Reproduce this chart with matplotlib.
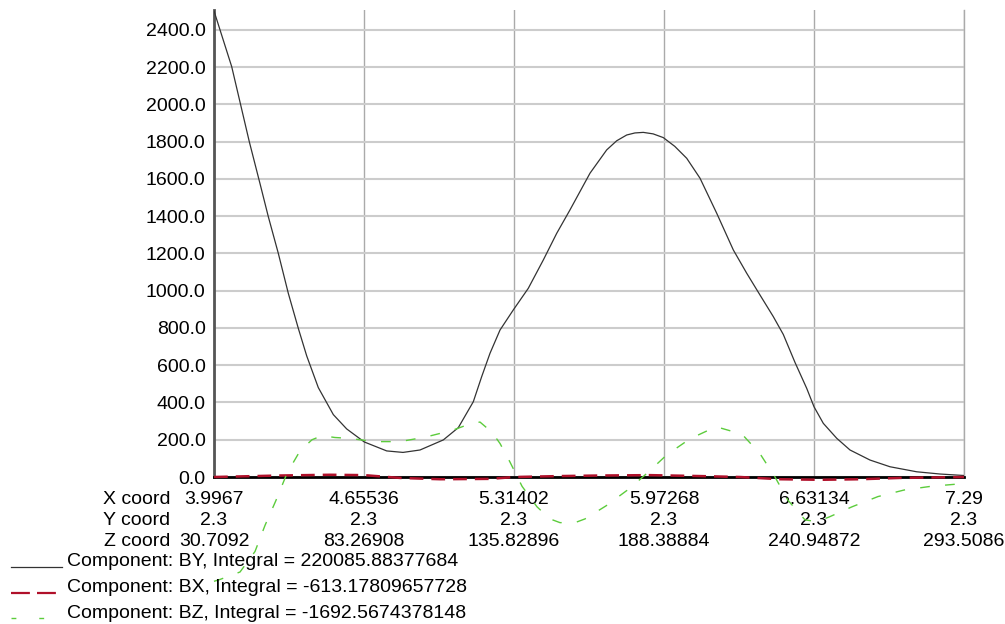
import matplotlib
matplotlib.use("Agg")
import matplotlib.pyplot as plt
from matplotlib.lines import Line2D
import numpy as np

plt.rcParams['font.family'] = ['Liberation Sans', 'DejaVu Sans']

# tick positions along the line (three coordinate rows)
x_coord = [3.9967, 4.65536, 5.31402, 5.97268, 6.63134, 7.29]
y_coord = ["2.3", "2.3", "2.3", "2.3", "2.3", "2.3"]
z_coord = ["30.7092", "83.26908", "135.82896", "188.38884", "240.94872", "293.5086"]

# Component BY
by_x = [3.9967, 4.0744, 4.1517, 4.1987, 4.2351, 4.2790, 4.3230, 4.3669, 4.4038, 4.4547,
        4.5206, 4.5794, 4.6567, 4.7550, 4.8266, 4.9013, 5.0036, 5.0695, 5.1353, 5.1722,
        5.2086, 5.2526, 5.3110, 5.3768, 5.4427, 5.5015, 5.5599, 5.6478, 5.7211, 5.7650,
        5.8089, 5.8450, 5.8818, 5.9250, 5.9696, 6.0200, 6.0724, 6.1308, 6.2041, 6.2770,
        6.3358, 6.3942, 6.4526, 6.4966, 6.5479, 6.5993, 6.6314, 6.6722, 6.7310, 6.7894,
        6.8773, 6.9651, 7.0823, 7.1846, 7.29]
by_y = [2502, 2203, 1800, 1575, 1398, 1201, 986, 798, 650, 480,
        335, 258, 188, 140, 132, 145, 199, 265, 404, 539,
        664, 789, 897, 1013, 1165, 1308, 1434, 1631, 1756, 1805,
        1836, 1847, 1850, 1842, 1822, 1775, 1711, 1604, 1416, 1219,
        1094, 977, 861, 765, 615, 476, 377, 288, 208, 145,
        91, 55, 28, 16, 8]

# Component BX
bx_x = [3.9967, 4.2865, 4.5060, 4.6567, 4.8135, 4.9892, 5.2086, 5.3184, 5.5160, 5.6917,
        5.9112, 6.1308, 6.3064, 6.4821, 6.6577, 6.8334, 7.0090, 7.29]
bx_y = [0, 8, 12, 10, -5, -12, -10, 0, 5, 8,
        10, 5, 0, -12, -15, -12, -5, 0]

# Component BZ
bz_x = [3.9967, 4.0230, 4.1109, 4.1767, 4.2206, 4.2690, 4.3173, 4.3743, 4.4270, 4.4709,
        4.5280, 4.5851, 4.7037, 4.8135, 4.9276, 5.0418, 5.1208, 5.1647, 5.2174, 5.2526,
        5.2965, 5.3494, 5.4150, 5.4721, 5.5160, 5.5819, 5.6258, 5.7180, 5.8234, 5.9024,
        5.9858, 6.0868, 6.2010, 6.3151, 6.3942, 6.4600, 6.5171, 6.5918, 6.6445, 6.6972,
        6.7982, 6.9124, 7.0266, 7.1451, 7.29]
bz_y = [-560, -550, -510, -400, -260, -125, 20, 140, 200, 222,
        212, 208, 190, 190, 215, 250, 285, 295, 240, 180,
        80, -50, -160, -225, -245, -245, -225, -155, -60, 25,
        120, 205, 270, 230, 125, 0, -125, -230, -240, -215,
        -160, -105, -70, -50, -35]

labels = ["Component: BY, Integral = 220085.88377684",
          "Component: BX, Integral = -613.17809657728",
          "Component: BZ, Integral = -1692.5674378148"]
colors = ['#333333', '#b0102a', '#5ccc3c']

W, H = 1005, 624
fs = 14
fig = plt.figure(figsize=(W/100, H/100), dpi=100)
ax = fig.add_axes([214/W, 1-477/H, 750/W, 467/H])

ax.plot(by_x, by_y, color=colors[0], lw=0.9, zorder=4)
ax.plot(bx_x, bx_y, color=colors[1], lw=1.8, dashes=(5.5, 3.2), zorder=7, clip_on=False)
ax.plot(bz_x, bz_y, color=colors[2], lw=1.0, dashes=(7, 11), zorder=8, clip_on=False)

ax.set_xlim(3.9967, 7.29)
ax.set_ylim(0, 2507)
ax.set_yticks(np.arange(0, 2401, 200))
ax.set_yticklabels(["%.1f" % v for v in np.arange(0, 2401, 200)], fontsize=fs)
ax.set_xticks(x_coord)
ax.set_xticklabels(["%s\n%s\n%s" % (str(a), b, c) for a, b, c in zip(x_coord, y_coord, z_coord)],
                   fontsize=fs, linespacing=1.3)
ax.tick_params(axis='both', length=0)
ax.tick_params(axis='y', pad=6)
ax.tick_params(axis='x', pad=10)

ax.grid(axis='y', color='#cccccc', lw=1.5)
ax.grid(axis='x', color='#aaaaaa', lw=1.0)
ax.set_axisbelow(True)
ax.spines['top'].set_visible(False)
ax.spines['left'].set_color('#555555')
ax.spines['left'].set_linewidth(2)
ax.spines['bottom'].set_color('black')
ax.spines['bottom'].set_linewidth(2)
ax.spines['bottom'].set_zorder(6)
ax.spines['right'].set_color('#aaaaaa')
ax.spines['right'].set_linewidth(1)

fig.text(170/W, 1-491/H, "X coord\nY coord\nZ coord", ha='right', va='top',
         fontsize=fs, linespacing=1.3, multialignment='right')

# legend drawn by hand: line on the text baseline
handle_dashes = [None, (8.5, 3.2), (3.5, 16.5)]
handle_lw = [0.9, 1.6, 1.0]
for i, lab in enumerate(labels):
    ly = 1 - (567 + 25.5*i)/H
    ln = Line2D([11/W, 62/W], [ly, ly], transform=fig.transFigure,
                color=colors[i], lw=handle_lw[i])
    if handle_dashes[i] is not None:
        ln.set_dashes(handle_dashes[i])
    fig.add_artist(ln)
    fig.text(67/W, 1 - (562 + 25.5*i)/H, lab, ha='left', va='center', fontsize=fs)

fig.savefig("out.png", dpi=100)
